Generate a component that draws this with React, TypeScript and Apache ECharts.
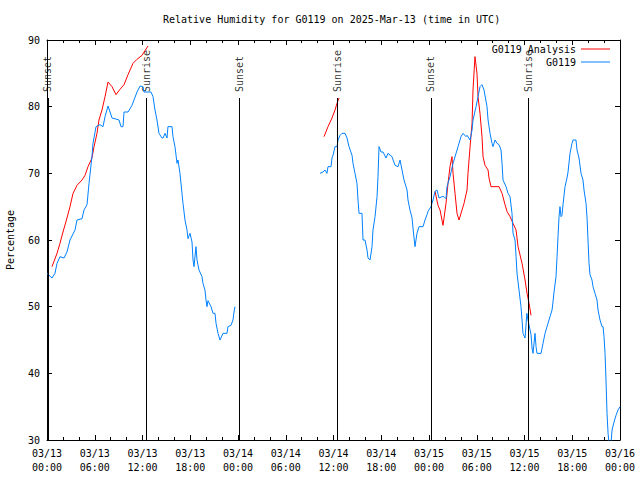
import React, { useEffect, useRef } from "react";
import * as echarts from "echarts";

const TITLE = "Relative Humidity for G0119 on 2025-Mar-13 (time in UTC)";
const Y_NAME = "Percentage";
const X_TICK_LABELS = [
  "03/13\n00:00", "03/13\n06:00", "03/13\n12:00", "03/13\n18:00",
  "03/14\n00:00", "03/14\n06:00", "03/14\n12:00", "03/14\n18:00",
  "03/15\n00:00", "03/15\n06:00", "03/15\n12:00", "03/15\n18:00",
  "03/16\n00:00",
];
const ANALYSIS_NAME = "G0119 Analysis";
const OBS_NAME = "G0119";

// hours since 03/13 00:00 UTC, relative humidity %
const ANALYSIS_SEG1: [number, number][] = [
  [0.63, 56], [1.26, 58], [1.63, 59.5], [2.01, 61.2], [2.51, 63.3], [2.89, 65],
  [3.27, 67], [3.77, 68.2], [4.4, 69], [4.78, 69.7], [5.15, 71], [5.65, 72.3],
  [5.91, 74], [6.28, 76], [6.53, 78], [6.91, 79.5], [7.29, 81.5], [7.67, 83.7],
  [8.17, 83], [8.67, 81.8], [9.17, 82.6], [9.68, 83.3], [10.18, 84.8], [10.81, 86.5],
  [11.31, 87.1], [11.94, 87.7], [12.31, 88.4], [12.69, 89.1],
];
const ANALYSIS_SEG2: [number, number][] = [
  [34.81, 75.5], [35.31, 77], [35.81, 78.3], [36.19, 79.5], [36.44, 80.5], [36.69, 81.3],
];
const ANALYSIS_SEG3: [number, number][] = [
  [48.76, 67.3], [49.13, 65.2], [49.39, 64.5], [49.76, 62.2], [50.14, 65.5], [50.39, 68.5],
  [50.64, 71], [50.89, 72.5], [51.02, 70], [51.27, 67], [51.52, 64], [51.77, 63],
  [52.15, 64.5], [52.4, 65.5], [52.78, 67.5], [52.9, 70], [53.16, 74], [53.41, 77.5],
  [53.53, 82.5], [53.78, 87.5], [54.03, 85], [54.16, 81.5], [54.41, 79], [54.66, 75.5],
  [54.79, 72.5], [55.04, 71.2], [55.42, 70.5], [55.54, 69.3], [55.79, 68], [56.8, 68],
  [57.18, 67], [57.55, 65.3], [57.8, 64.3], [58.18, 63.5], [58.56, 62.5], [58.94, 61.5],
  [59.19, 59], [59.69, 56.5], [60.07, 54], [60.32, 52], [60.57, 50.5], [60.82, 48.7],
];

const OBS_SEG1: [number, number][] = [
  [0, 55], [0.63, 54.3], [1.0, 55], [1.26, 56.5], [1.63, 57.5], [2.14, 57.3], [2.51, 58.2],
  [2.89, 60], [3.52, 61.5], [3.77, 63], [4.4, 63.2], [4.65, 64.5], [5.03, 65.3], [5.28, 68.5],
  [5.65, 72.5], [5.78, 74.5], [6.16, 77], [6.66, 77.3], [7.04, 77], [7.29, 78.5], [7.67, 80.1],
  [8.17, 78.3], [8.8, 78.1], [9.05, 78], [9.3, 77], [9.55, 77], [9.68, 79.2], [10.18, 79.2],
  [10.68, 80.2], [10.93, 81], [11.31, 82.2], [11.69, 83.1], [12.06, 83], [12.19, 82.2],
  [12.69, 82.2], [13.07, 82.2], [13.32, 81.5], [13.57, 79.5], [13.82, 78], [14.07, 76],
  [14.45, 75.3], [14.58, 75.3], [14.83, 76], [15.08, 75.3], [15.2, 77], [15.71, 77],
  [15.83, 75.5], [16.08, 74], [16.34, 71.5], [16.46, 72], [16.71, 70], [16.96, 67],
  [17.09, 65.5], [17.34, 63], [17.59, 61.5], [17.72, 60.2], [17.97, 61], [18.22, 59.7],
  [18.35, 57], [18.47, 56], [18.72, 59], [18.85, 57], [19.1, 55.5], [19.48, 54.5],
  [19.6, 53.5], [19.85, 52.5], [19.98, 51], [20.1, 50], [20.23, 50.9], [20.61, 50],
  [20.86, 49], [21.11, 49], [21.24, 47.5], [21.49, 46], [21.74, 45], [22.12, 46],
  [22.62, 46], [22.74, 47], [23.12, 47.2], [23.37, 48], [23.5, 49.2], [23.62, 50],
];
const OBS_SEG2: [number, number][] = [
  [34.3, 70], [34.68, 70.2], [34.93, 70.5], [35.18, 70], [35.31, 71], [35.69, 71],
  [35.81, 72.3], [35.94, 72.7], [36.19, 74], [36.44, 74], [36.57, 75], [36.82, 75.7],
  [37.07, 76], [37.45, 76], [37.7, 75.3], [37.95, 74], [38.33, 72.7], [38.45, 71.5],
  [38.7, 70], [38.95, 68.5], [39.08, 66], [39.21, 64], [39.58, 64], [39.71, 60],
  [39.96, 60], [40.21, 58.5], [40.34, 57.3], [40.59, 57], [40.84, 59], [40.96, 61.5],
  [41.22, 63.5], [41.47, 66.5], [41.59, 69.5], [41.72, 74], [41.97, 73.2], [42.22, 73.2],
  [42.6, 72.3], [42.85, 73], [43.35, 72.5], [43.73, 71.2], [44.11, 71], [44.36, 72],
  [44.61, 70.5], [44.86, 69], [45.24, 67.5], [45.36, 66], [45.61, 64.5], [45.87, 63.3],
  [45.99, 61.8], [46.24, 59], [46.49, 61], [46.75, 62], [47.25, 62], [47.5, 63],
  [47.75, 63.8], [47.88, 64.3], [48.25, 65], [48.5, 66], [48.76, 67.3], [49.01, 67.5],
  [49.26, 66.3], [49.64, 66.5], [49.89, 66.5], [50.14, 66.2], [50.26, 68], [50.64, 69.5],
  [51.02, 71.5], [51.4, 73], [51.65, 74], [52.02, 75.5], [52.28, 76], [52.65, 75.5],
  [52.78, 75.7], [53.16, 75], [53.41, 76.5], [53.53, 78], [53.91, 80], [54.16, 81.5],
  [54.41, 83], [54.66, 83.3], [54.91, 82.5], [55.29, 80], [55.42, 78], [55.67, 76],
  [55.92, 74.5], [56.04, 74], [56.3, 75], [56.55, 74.5], [56.8, 74.3], [57.05, 73.5],
  [57.18, 71.5], [57.3, 69], [57.68, 68], [57.93, 67], [58.18, 66.5], [58.43, 64],
  [58.56, 61], [58.81, 60], [58.94, 57.5], [59.06, 55], [59.31, 52.5], [59.56, 50],
  [59.69, 48], [59.81, 46], [60.07, 45.3], [60.3, 49], [60.44, 48], [60.82, 45.8],
  [60.95, 43.8], [61.07, 43], [61.32, 46], [61.45, 44], [61.57, 43], [62.08, 43],
  [62.33, 44.5], [62.58, 46], [62.83, 47], [63.21, 48.5], [63.46, 49.5], [63.58, 50.7],
  [63.71, 52.2], [63.96, 54.5], [64.09, 57.5], [64.21, 60.5], [64.34, 63.5], [64.46, 65],
  [64.59, 63.5], [64.71, 63.7], [64.84, 65.3], [65.09, 68], [65.34, 69.3], [65.47, 70.2],
  [65.72, 73], [65.97, 74.5], [66.1, 75], [66.47, 75], [66.6, 73.5], [66.85, 72.3],
  [67.1, 70], [67.35, 69], [67.48, 67.5], [67.73, 65.5], [67.86, 63.3], [67.98, 60],
  [68.11, 56.5], [68.23, 54.8], [68.48, 54], [68.61, 53], [68.86, 52], [69.11, 51],
  [69.24, 49.5], [69.49, 48], [69.74, 47], [69.87, 47], [69.99, 45.5], [70.12, 43],
  [70.24, 39], [70.37, 34], [70.5, 31], [70.62, 29.5], [70.87, 29.5], [71.0, 31.5],
  [71.25, 32.7], [71.5, 33.7], [71.75, 34.5], [72, 35],
];

const SUN_HOURS = [0.1, 12.44, 24.13, 36.44, 48.25, 60.44];
const SUN_LABELS = ["Sunset", "Sunrise", "Sunset", "Sunrise", "Sunset", "Sunrise"];
const SUN_LINE_TOP = 81.3;

const X_MIN = 0;
const X_MAX = 72;
const X_INTERVAL = 6;
const Y_MIN = 30;
const Y_MAX = 90;
const Y_INTERVAL = 10;

const FONT = "DejaVu Sans Mono";
const RED = "#ff0000";
const BLUE = "#0080ff";

export default function App() {
  const ref = useRef<HTMLDivElement>(null);
  useEffect(() => {
    if (!ref.current) return;
    const chart = echarts.init(ref.current, undefined, { renderer: "svg" });
    const tickStyle = { color: "#000", width: 1 };
    const xCommon = {
      type: "value" as const,
      min: X_MIN,
      max: X_MAX,
      interval: X_INTERVAL,
      splitLine: { show: false },
      axisLine: { show: true, onZero: false, lineStyle: { color: "#000", width: 1 } },
      axisTick: { show: true, inside: true, length: 5, lineStyle: tickStyle },
      minorTick: { show: true, splitNumber: 3, length: 3, lineStyle: tickStyle },
    };
    const yCommon = {
      type: "value" as const,
      min: Y_MIN,
      max: Y_MAX,
      interval: Y_INTERVAL,
      splitLine: { show: false },
      axisLine: { show: true, onZero: false, lineStyle: { color: "#000", width: 1 } },
      axisTick: { show: true, inside: true, length: 5, lineStyle: tickStyle },
    };
    const lineSeries = (name: string, color: string, data: [number, number][]) => ({
      type: "line" as const,
      name,
      data,
      symbol: "none",
      showSymbol: false,
      lineStyle: { color, width: 1 },
      itemStyle: { color },
      clip: true,
    });
    chart.setOption({
      animation: false,
      backgroundColor: "#fff",
      textStyle: { fontFamily: FONT },
      title: {
        text: TITLE,
        left: 158,
        top: 9,
        textStyle: { fontFamily: FONT, fontSize: 10, fontWeight: "normal", color: "#000" },
      },
      legend: {
        orient: "vertical",
        right: 30,
        top: 43,
        padding: 0,
        align: "right",
        icon: "rect",
        itemWidth: 29,
        itemHeight: 1,
        itemGap: 1,
        data: [ANALYSIS_NAME, OBS_NAME],
        textStyle: { fontFamily: FONT, fontSize: 10, color: "#000", lineHeight: 12 },
      },
      grid: {
        left: 47,
        right: 20,
        top: 40,
        bottom: 40,
        containLabel: false,
        outerBoundsMode: "none",
      },
      xAxis: [
        {
          ...xCommon,
          position: "bottom",
          axisLabel: {
            show: true,
            margin: 6,
            fontFamily: FONT,
            fontSize: 10,
            color: "#000",
            lineHeight: 14,
            formatter: (v: number) => X_TICK_LABELS[Math.round(v / X_INTERVAL)] ?? "",
          },
        },
        { ...xCommon, position: "top", axisLabel: { show: false } },
      ],
      yAxis: [
        {
          ...yCommon,
          position: "left",
          name: Y_NAME,
          nameLocation: "middle",
          nameGap: 32,
          nameRotate: 90,
          nameTextStyle: { fontFamily: FONT, fontSize: 10, color: "#000" },
          axisLabel: { show: true, margin: 7, fontFamily: FONT, fontSize: 10, color: "#000" },
        },
        { ...yCommon, position: "right", axisLabel: { show: false } },
      ],
      series: [
        lineSeries(ANALYSIS_NAME, RED, ANALYSIS_SEG1),
        lineSeries(ANALYSIS_NAME, RED, ANALYSIS_SEG2),
        lineSeries(ANALYSIS_NAME, RED, ANALYSIS_SEG3),
        lineSeries(OBS_NAME, BLUE, OBS_SEG1),
        lineSeries(OBS_NAME, BLUE, OBS_SEG2),
        {
          type: "scatter",
          name: "sun",
          symbolSize: 0,
          data: SUN_HOURS.map((h, i) => ({ value: [h, SUN_LINE_TOP], name: SUN_LABELS[i] })),
          label: {
            show: true,
            position: "top",
            distance: 6,
            rotate: 90,
            align: "left",
            verticalAlign: "middle",
            formatter: (p: any) => p.name,
            fontFamily: FONT,
            fontSize: 10,
            color: "#000",
          },
          markLine: {
            silent: true,
            symbol: ["none", "none"],
            label: { show: false },
            lineStyle: { color: "#000", width: 1, type: "solid" },
            data: SUN_HOURS.map((h) => [{ coord: [h, SUN_LINE_TOP] }, { coord: [h, Y_MIN] }]),
          },
          z: 1,
        },
      ],
    });
    return () => chart.dispose();
  }, []);
  return (
    <div
      ref={ref}
      style={{ position: "fixed", left: 0, top: 0, width: 640, height: 480 }}
    />
  );
}
